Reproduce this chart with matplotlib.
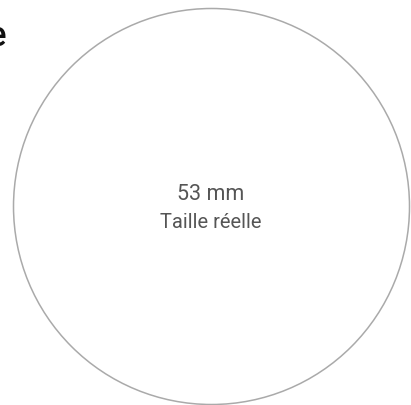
import matplotlib
matplotlib.use("Agg")
import matplotlib.pyplot as plt
from matplotlib.patches import Circle

# Data
diameter_mm = 53
unit = "mm"
size_label = "Taille réelle"
title_tail = "e"

W, H = 411, 405
fig = plt.figure(figsize=(W / 100, H / 100), dpi=100)
ax = fig.add_axes([0, 0, 1, 1])
ax.set_xlim(0, W)
ax.set_ylim(H, 0)
ax.axis("off")

ax.add_patch(Circle((211.5, 206.5), 198, fill=False, edgecolor="#aaaaaa", linewidth=1.1))

ax.text(211, 194, f"{diameter_mm} {unit}", ha="center", va="center",
        fontsize=15.5, color="#555555", family="Roboto", fontweight="normal")
ax.text(211, 222, size_label, ha="center", va="center",
        fontsize=14.5, color="#555555", family="Roboto", fontweight="normal")

ax.text(6, 37, title_tail, ha="right", va="center", fontsize=25, color="#111111",
        family="Roboto", fontweight="medium")

fig.savefig("out.png", dpi=100)
